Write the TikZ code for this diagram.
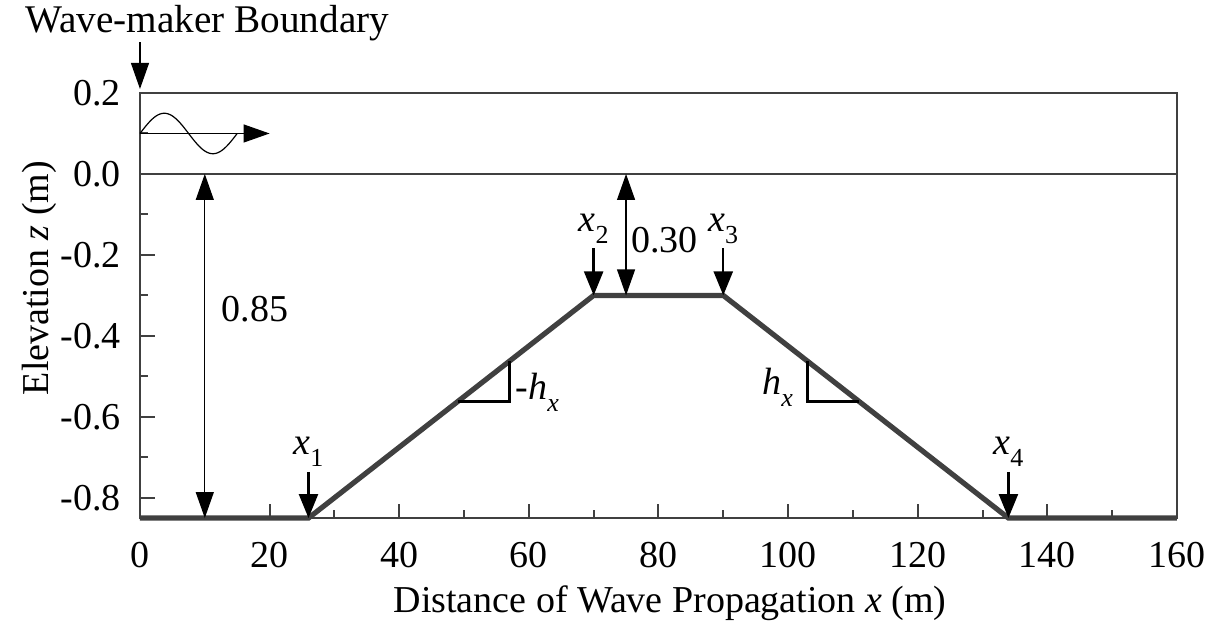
\documentclass[tikz,border=0pt]{standalone}
\usepackage{fontspec}
\setmainfont{Liberation Serif}
\usetikzlibrary{arrows.meta}
\newcommand{\lowsub}[1]{\raisebox{-6pt}{\fontsize{13}{13}\selectfont #1}}
\newcommand{\itsub}[2]{\textit{#1}\lowsub{#2}}

\begin{document}
\begin{tikzpicture}[x=3.2405pt, y=202.4pt,
    lab/.style={inner sep=0pt, font=\fontsize{19}{23}\selectfont},
    frame/.style={draw=black!75, line width=1pt},
    bed/.style={draw=black!75, line width=2.6pt},
    tri/.style={draw=black, line width=1.2pt},
    arr/.style={line width=0.6pt, -{Triangle[length=13pt,width=9pt]}},
    ptarr/.style={line width=1.2pt, -{Triangle[length=12pt,width=9.5pt]}},
    dbl/.style={line width=0.6pt, {Triangle[length=13pt,width=9pt]}-{Triangle[length=13pt,width=9pt]}}]
  \useasboundingbox (-21.60,-1.1314) rectangle (166.80,0.4298);

  % axes box and still water level
  \draw[frame] (0,-0.85) rectangle (160,0.2);
  \draw[draw=black!75, line width=0.8pt] (0,0) -- (160,0);

  % ticks
  \foreach \x in {20,40,...,140} \draw[frame] (\x,-0.85) -- ++(0,7pt);
  \foreach \x in {10,30,...,150} \draw[frame] (\x,-0.85) -- ++(0,4pt);
  \foreach \y in {0.2,0,-0.2,-0.4,-0.6,-0.8} \draw[frame] (0,\y) -- ++(7.5pt,0);
  \foreach \y in {0.1,-0.1,-0.3,-0.5,-0.7} \draw[frame] (0,\y) -- ++(4pt,0);

  % tick labels
  \foreach \x in {0,20,...,160} \node[lab, anchor=base] (tx\x) at (\x,-0.971) {\x};
  \foreach \y/\t in {0.2/0.2, 0/0.0, -0.2/-0.2, -0.4/-0.4, -0.6/-0.6, -0.8/-0.8}
    \node[lab, anchor=east] at (-2.93,\y) {\t};

  % axis titles
  \node[lab, anchor=base] (xtitle) at (81.8,-1.0845) {Distance of Wave Propagation \textit{x} (m)};
  \node[lab, anchor=base, rotate=90] (ytitle) at (-14.04,-0.257) {Elevation \textit{z} (m)};

  % bed profile
  \coordinate (b0) at (0,-0.85);
  \coordinate (b1) at (26,-0.85);
  \coordinate (b2) at (70,-0.3);
  \coordinate (b3) at (90,-0.3);
  \coordinate (b4) at (134,-0.85);
  \coordinate (b5) at (160,-0.85);
  \draw[bed] (b0) -- (b1) -- (b2) -- (b3) -- (b4) -- (b5);

  % slope triangles
  \draw[tri] (49,-0.5625) -- (57,-0.5625) -- (57,-0.4625);
  \draw[tri] (103,-0.4625) -- (103,-0.5625) -- (111,-0.5625);
  \node[lab, anchor=base west] (hl) at (57.9,-0.558) {-\itsub{h}{\textit{x}}};
  \node[lab, anchor=base east] (hr) at (100.8,-0.546) {\itsub{h}{\textit{x}}};

  % wave-maker boundary
  \node[lab, anchor=base west, font=\fontsize{19.6}{23}\selectfont] (wm) at (-17.74,0.3483) {Wave-maker Boundary};
  \coordinate (wmtop) at (0,0.326);
  \coordinate (wmtip) at (0,0.21);
  \draw[arr] (wmtop) -- (wmtip);

  % incident wave
  \coordinate (w0) at (0,0.1);
  \coordinate (w1) at (20,0.1);
  \draw[line width=0.6pt] plot[domain=0:15, samples=60, smooth] (\x,{0.1+0.05*sin(24*\x)});
  \draw[arr] (w0) -- (w1);

  % depths
  \coordinate (d0) at (10,0);
  \coordinate (d1) at (10,-0.85);
  \draw[dbl] (d0) -- (d1);
  \node[lab, anchor=base] (dep) at (17.74,-0.3656) {0.85};
  \coordinate (c0) at (75,0);
  \coordinate (c1) at (75,-0.3);
  \draw[dbl] (c0) -- (c1);
  \node[lab, anchor=base] (crest) at (80.93,-0.1952) {0.30};

  % toe and crest markers
  \foreach \i/\x/\z/\top in {1/26/-0.694/-0.736, 2/70/-0.1433/-0.183, 3/90/-0.1433/-0.183, 4/134/-0.694/-0.736} {
    \node[lab, anchor=base] (lx\i) at (\x,\z) {\itsub{x}{\i}};
    \coordinate (ax\i) at (\x,\top);
    \draw[ptarr] (ax\i) -- (b\i);
  }
\end{tikzpicture}
\end{document}
